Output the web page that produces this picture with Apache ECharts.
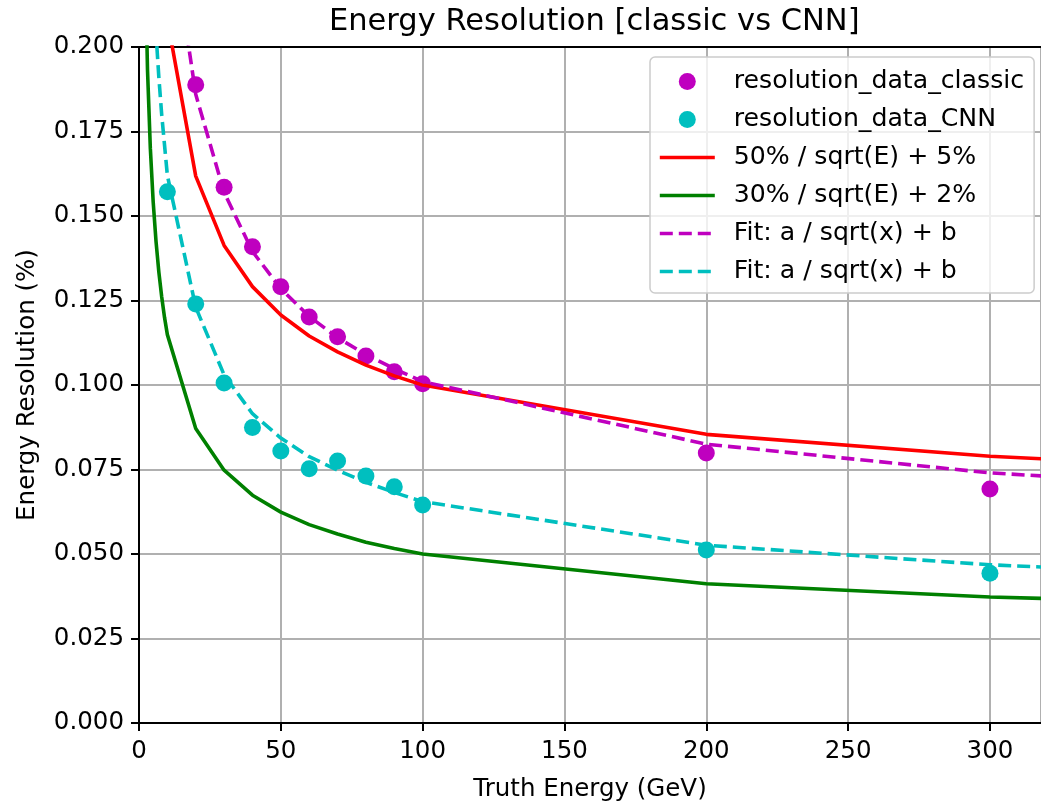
<!DOCTYPE html>
<html>
<head>
<meta charset="utf-8">
<script src="https://cdn.jsdelivr.net/npm/echarts@6/dist/echarts.min.js"></script>
<style>
  html, body { margin: 0; padding: 0; background: #ffffff; }
  #chart { width: 1041px; height: 801px; }
</style>
</head>
<body>
<div id="chart"></div>
<script>
// ---- data ----
const chartTitle = 'Energy Resolution [classic vs CNN]';
const xAxisTitle = 'Truth Energy (GeV)';
const yAxisTitle = 'Energy Resolution (%)';

// energies of the measured points
const classicEnergies = [20, 30, 40, 50, 60, 70, 80, 90, 100, 200, 300];
const classicResolution = [0.1888, 0.1585, 0.1409, 0.1291, 0.1201, 0.1143, 0.1086, 0.1039, 0.1004, 0.0799, 0.0692];

const cnnEnergies = [10, 20, 30, 40, 50, 60, 70, 80, 90, 100, 200, 300];
const cnnResolution = [0.1572, 0.1240, 0.1006, 0.0874, 0.0805, 0.0752, 0.0775, 0.0731, 0.0699, 0.0645, 0.0512, 0.0443];

// energies at which the curves are drawn
const curveEnergies = [1, 2, 3, 4, 5, 6, 7, 8, 9, 10, 20, 30, 40, 50, 60, 70, 80, 90, 100, 200, 300, 400];
const refRed   = [0.550, 0.4036, 0.3387, 0.300, 0.2736, 0.2541, 0.2390, 0.2268, 0.2167, 0.2081, 0.1618, 0.1413, 0.1291, 0.1207, 0.1145, 0.1098, 0.1059, 0.1027, 0.1000, 0.0854, 0.0789, 0.0750];
const refGreen = [0.320, 0.2321, 0.1932, 0.170, 0.1542, 0.1425, 0.1334, 0.1261, 0.1200, 0.1149, 0.0871, 0.0748, 0.0674, 0.0624, 0.0587, 0.0559, 0.0535, 0.0516, 0.0500, 0.0412, 0.0373, 0.0350];
const fitClassic = [0.704, 0.508, 0.421, 0.369, 0.334, 0.308, 0.287, 0.271, 0.257, 0.243, 0.186, 0.157, 0.1395, 0.1285, 0.1203, 0.1140, 0.1090, 0.1048, 0.1010, 0.0825, 0.0740, 0.0690];
const fitCNN     = [0.470, 0.339, 0.280, 0.246, 0.222, 0.204, 0.191, 0.180, 0.171, 0.162, 0.123, 0.103, 0.0915, 0.0843, 0.0788, 0.0748, 0.0712, 0.0682, 0.0655, 0.0526, 0.0468, 0.0433];

const seriesNames = [
  'resolution_data_classic',
  'resolution_data_CNN',
  '50% / sqrt(E) + 5%',
  '30% / sqrt(E) + 2%',
  'Fit: a / sqrt(x) + b (classic)',
  'Fit: a / sqrt(x) + b (CNN)'
];

const xTickValues = [0, 50, 100, 150, 200, 250, 300];

// ---- chart ----
const pair = (xs, ys) => xs.map((x, i) => [x, ys[i]]);
const FONT = 'DejaVu Sans';
const LW = 3.6;
const DASH = [13, 6];
const chart = echarts.init(document.getElementById('chart'), null, { renderer: 'canvas' });

const legendData = seriesNames.map((n, i) => (i < 2
  ? { name: n }
  : { name: n, itemStyle: { opacity: 0 }, lineStyle: { width: LW, type: i >= 4 ? DASH : 'solid' } }));

const option = {
  backgroundColor: '#ffffff',
  animation: false,
  title: {
    text: chartTitle,
    left: 324,
    top: 2,
    textStyle: { fontFamily: FONT, fontSize: 30.5, fontWeight: 'normal', color: '#000000' }
  },
  legend: {
    orient: 'vertical',
    left: 650,
    top: 57,
    padding: [12, 10, 9, 8],
    itemWidth: 55,
    itemHeight: 17,
    itemGap: 13,
    backgroundColor: 'rgba(255,255,255,0.8)',
    borderColor: '#cccccc',
    borderWidth: 1.5,
    borderRadius: 5,
    data: legendData,
    formatter: name => name.replace(/ \((classic|CNN)\)$/, ''),
    textStyle: { fontFamily: FONT, fontSize: 25.2, color: '#000000', lineHeight: 25, padding: [0, 0, 0, 14] }
  },
  grid: { left: 139, right: 0, top: 47, bottom: 78, containLabel: false, outerBoundsMode: 'none' },
  xAxis: [{
    type: 'value',
    min: 0, max: 318, interval: 50,
    name: xAxisTitle,
    nameLocation: 'middle',
    nameGap: 54,
    nameTextStyle: { fontFamily: FONT, fontSize: 24.5, color: '#000000' },
    axisLine: { show: true, onZero: false, lineStyle: { color: '#000000', width: 2 } },
    axisTick: { show: true, length: 8, lineStyle: { color: '#000000', width: 2 } },
    axisLabel: {
      fontFamily: FONT, fontSize: 24.5, color: '#000000', margin: 16,
      showMaxLabel: false,
      formatter: v => (xTickValues.indexOf(v) >= 0 ? String(v) : '')
    },
    splitLine: { show: true, lineStyle: { color: '#b0b0b0', width: 2 } }
  }, {
    type: 'value',
    position: 'top',
    min: 0, max: 318,
    axisLine: { show: true, onZero: false, lineStyle: { color: '#000000', width: 2 } },
    axisTick: { show: false },
    axisLabel: { show: false },
    splitLine: { show: false }
  }],
  yAxis: {
    type: 'value',
    min: 0, max: 0.2, interval: 0.025,
    name: yAxisTitle,
    nameLocation: 'middle',
    nameGap: 99,
    nameTextStyle: { fontFamily: FONT, fontSize: 24.5, color: '#000000' },
    axisLine: { show: true, onZero: false, lineStyle: { color: '#000000', width: 2 } },
    axisTick: { show: true, length: 8, lineStyle: { color: '#000000', width: 2 } },
    axisLabel: { fontFamily: FONT, fontSize: 24.5, color: '#000000', margin: 15, formatter: v => v.toFixed(3) },
    splitLine: { show: true, lineStyle: { color: '#b0b0b0', width: 2 } }
  },
  series: [
    {
      name: seriesNames[0], type: 'scatter', symbol: 'circle', symbolSize: 17,
      itemStyle: { color: '#bf00bf', opacity: 1 }, clip: true,
      data: pair(classicEnergies, classicResolution)
    },
    {
      name: seriesNames[1], type: 'scatter', symbol: 'circle', symbolSize: 17,
      itemStyle: { color: '#00bfbf', opacity: 1 }, clip: true,
      data: pair(cnnEnergies, cnnResolution)
    },
    {
      name: seriesNames[2], type: 'line', showSymbol: false, symbol: 'none', clip: true,
      itemStyle: { color: '#ff0000' },
      lineStyle: { color: '#ff0000', width: LW },
      data: pair(curveEnergies, refRed)
    },
    {
      name: seriesNames[3], type: 'line', showSymbol: false, symbol: 'none', clip: true,
      itemStyle: { color: '#008000' },
      lineStyle: { color: '#008000', width: LW },
      data: pair(curveEnergies, refGreen)
    },
    {
      name: seriesNames[4], type: 'line', showSymbol: false, symbol: 'none', clip: true,
      itemStyle: { color: '#bf00bf' },
      lineStyle: { color: '#bf00bf', width: LW, type: DASH },
      data: pair(curveEnergies, fitClassic)
    },
    {
      name: seriesNames[5], type: 'line', showSymbol: false, symbol: 'none', clip: true,
      itemStyle: { color: '#00bfbf' },
      lineStyle: { color: '#00bfbf', width: LW, type: DASH },
      data: pair(curveEnergies, fitCNN)
    }
  ]
};
chart.setOption(option);
</script>
</body>
</html>
